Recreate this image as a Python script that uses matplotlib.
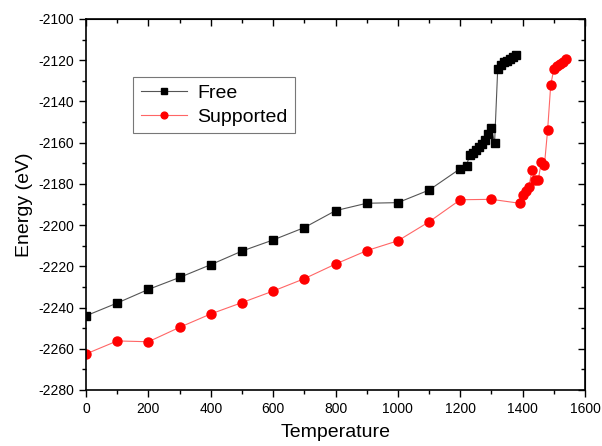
import numpy as np
import matplotlib
matplotlib.use('Agg')
import matplotlib.pyplot as plt
from matplotlib.ticker import MultipleLocator

plt.rcParams['font.family'] = ['Liberation Sans', 'DejaVu Sans']
plt.rcParams['axes.unicode_minus'] = False

# Free cluster
free_T = [0, 100, 200, 300, 400, 500, 600, 700, 800, 900, 1000, 1100,
          1200, 1220, 1230, 1240, 1250, 1260, 1270, 1280, 1290, 1300, 1310,
          1320, 1330, 1340, 1350, 1360, 1370, 1380]
free_E = [-2244.0, -2237.8, -2231.2, -2225.4, -2219.2, -2212.6, -2207.2,
          -2201.2, -2193.0, -2189.4, -2189.1, -2183.0,
          -2172.6, -2171.2, -2166.0, -2164.8, -2163.4, -2162.0, -2160.6,
          -2158.5, -2156.0, -2153.0, -2160.3,
          -2124.4, -2122.5, -2121.0, -2120.2, -2119.3, -2118.2, -2117.5]

# Supported cluster
sup_T = [0, 100, 200, 300, 400, 500, 600, 700, 800, 900, 1000, 1100,
         1200, 1300, 1390, 1400, 1410, 1420, 1430, 1440, 1450, 1460, 1470,
         1480, 1490, 1500, 1510, 1520, 1530, 1540]
sup_E = [-2262.5, -2256.2, -2256.6, -2249.6, -2243.1, -2237.6, -2232.0,
         -2226.0, -2218.9, -2212.4, -2207.6, -2198.4,
         -2187.7, -2187.5, -2189.4, -2185.4, -2183.4, -2181.4, -2173.3,
         -2178.0, -2178.0, -2169.3, -2170.6,
         -2154.0, -2132.0, -2124.3, -2123.0, -2122.0, -2120.8, -2119.5]

fig = plt.figure(figsize=(6.02, 4.46), dpi=100)
ax = fig.add_axes([0.1429, 0.1256, 0.8289, 0.8318])

ax.plot(free_T, free_E, '-', color='#555555', lw=0.8, marker='s', ms=5.5,
        mfc='black', mec='black', label='Free')
ax.plot(sup_T, sup_E, '-', color='#ff6666', lw=0.8, marker='o', ms=6.5,
        mfc='red', mec='red', label='Supported')

ax.set_xlim(0, 1600)
ax.set_ylim(-2280, -2100)
ax.xaxis.set_major_locator(MultipleLocator(200))
ax.xaxis.set_minor_locator(MultipleLocator(100))
ax.yaxis.set_major_locator(MultipleLocator(20))
ax.yaxis.set_minor_locator(MultipleLocator(10))

ax.tick_params(which='both', direction='out', top=False, right=False, width=1)
ax.tick_params(which='major', length=5, labelsize=10)
ax.tick_params(which='minor', length=3)

# inward ticks on top and right, no labels
axt = ax.secondary_xaxis('top')
axt.xaxis.set_major_locator(MultipleLocator(200))
axt.xaxis.set_minor_locator(MultipleLocator(100))
axt.tick_params(which='both', direction='in', labeltop=False, width=1)
axt.tick_params(which='major', length=5)
axt.tick_params(which='minor', length=3)
axr = ax.secondary_yaxis('right')
axr.yaxis.set_major_locator(MultipleLocator(20))
axr.yaxis.set_minor_locator(MultipleLocator(10))
axr.tick_params(which='both', direction='in', labelright=False, width=1)
axr.tick_params(which='major', length=5)
axr.tick_params(which='minor', length=3)

for s in ax.spines.values():
    s.set_linewidth(1.2)

ax.set_xlabel('Temperature', fontsize=14, labelpad=6)
ax.set_ylabel('Energy (eV)', fontsize=14, labelpad=4)

leg = ax.legend(loc='upper left', bbox_to_anchor=(0.094, 0.844), borderaxespad=0,
                fontsize=14, fancybox=False, framealpha=1, edgecolor='#777777',
                handlelength=2.4, markerscale=0.75, borderpad=0.4,
                labelspacing=0.3, handletextpad=0.5)
leg.get_frame().set_linewidth(0.8)

plt.savefig('out.png', dpi=100)
